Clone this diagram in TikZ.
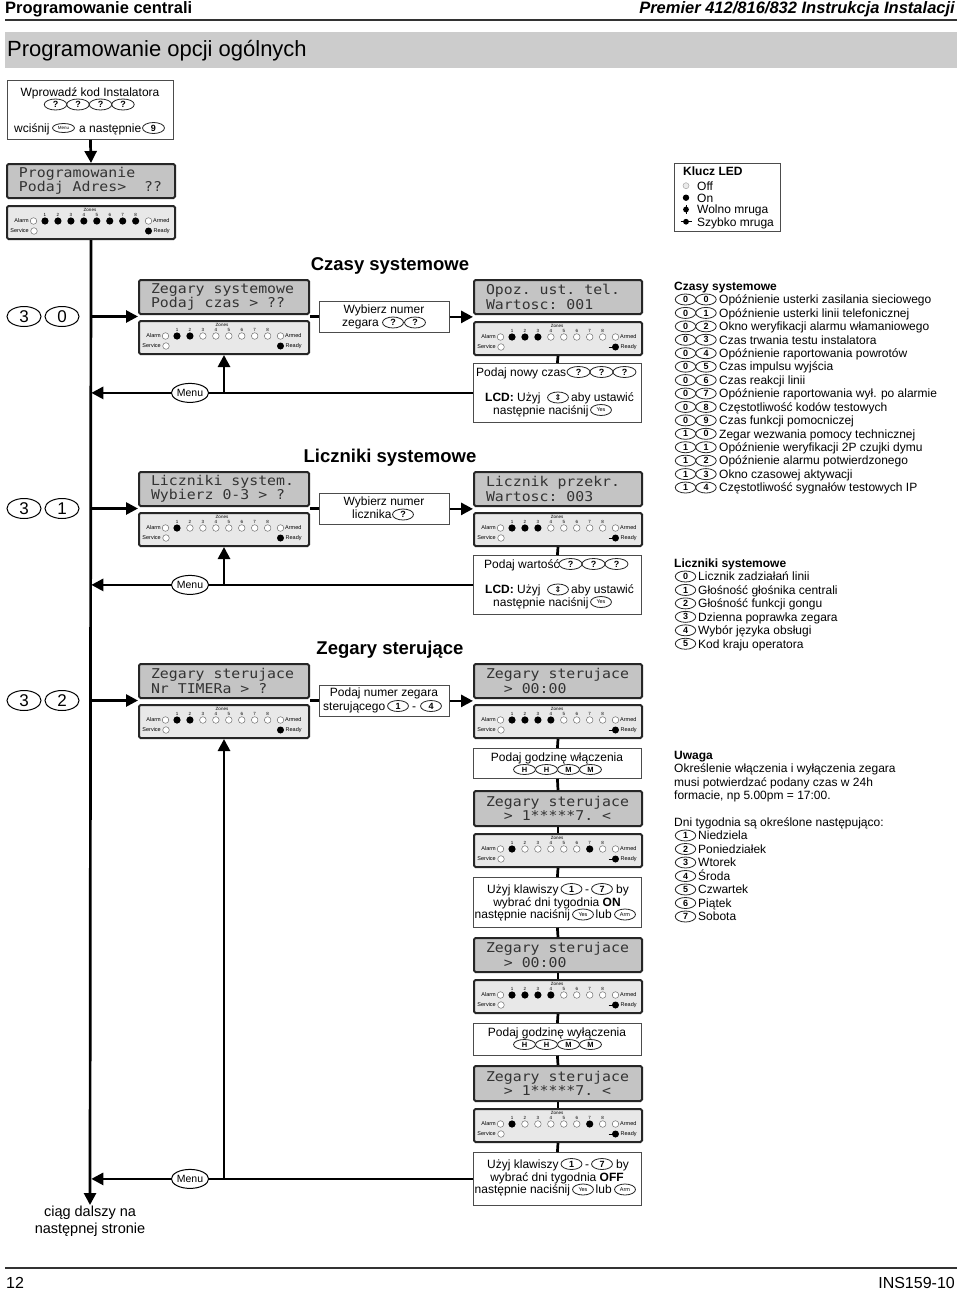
\documentclass[tikz,border=0pt]{standalone}
\usepackage{fontspec}
\setmainfont{Liberation Sans}
\newfontfamily\lcdfont[FakeStretch=1.1]{DejaVu Sans Mono}
\newfontfamily\symfont{DejaVu Sans}
\usetikzlibrary{arrows.meta,shapes.geometric,calc}
\newcommand{\lsp}{\hphantom{x}}

\tikzset{
  conn/.style={line width=2.7pt, draw=black},
  arr/.style={-{Triangle[length=12pt,width=12pt]}},
  txtbox/.style={draw=black!70, line width=0.8pt, fill=white, anchor=north west, inner sep=0pt},
  lcdbox/.style={draw=black!85, line width=2pt, fill=black!23, anchor=north west, rounded corners=1.5pt, inner xsep=12pt, inner ysep=0pt, align=left, text=black!80, font=\lcdfont\fontsize{13.5}{14.3}\selectfont},
  lcdL/.style={lcdbox, minimum width=170pt, minimum height=34pt, text width=146pt},
  lcdR/.style={lcdbox, minimum width=168pt, minimum height=34pt, text width=144pt},
  ledbox/.style={draw=black!85, line width=2pt, fill=black!9, anchor=north west, rounded corners=1.5pt, minimum height=33pt, inner sep=0pt},
  ledtxt/.style={inner sep=0pt, font=\fontsize{5.5}{5.5}\selectfont},
  lednum/.style={inner sep=0pt, font=\fontsize{4.5}{4.5}\selectfont},
  ledoff/.style={draw=black!60, line width=0.45pt, fill=white},
  key/.style={ellipse, draw=black!85, line width=0.8pt, fill=white, inner sep=0pt, minimum width=21pt, minimum height=11pt, font=\fontsize{9}{9}\selectfont\bfseries},
  smallkey/.style={key, font=\fontsize{5.5}{5.5}\selectfont},
  bigkey/.style={ellipse, draw=black, line width=1pt, fill=white, inner sep=0pt, minimum width=34pt, minimum height=20pt, font=\fontsize{17}{17}\selectfont},
  menukey/.style={ellipse, draw=black, line width=1pt, fill=white, inner sep=0pt, minimum width=35pt, minimum height=19pt, font=\fontsize{10.5}{10.5}\selectfont},
  txt/.style={inner sep=0pt, font=\fontsize{12}{14}\selectfont},
  btxt/.style={inner sep=0pt, font=\fontsize{12}{14}\selectfont\bfseries},
  head/.style={inner sep=0pt, font=\fontsize{18.5}{20}\selectfont\bfseries},
}

\newcommand{\ledpanel}[6]{%
  \node[ledbox, minimum width=#4pt] (#1) at (#2,#3) {};
  \begin{scope}[shift={(#2,#3)}]
    \node[lednum] (#1zl) at (84,5) {Zones};
    \node[ledtxt, anchor=east] (#1al) at (23,16) {Alarm};
    \node[ledtxt, anchor=east] (#1sl) at (23,26) {Service};
    \node[ledtxt, anchor=west] (#1arl) at (147,16) {Armed};
    \node[ledtxt, anchor=west] (#1rl) at (147.5,26) {Ready};
    \draw[ledoff] (27.5,16) circle[radius=3.3pt];
    \draw[ledoff] (28,26) circle[radius=3.3pt];
    \draw[ledoff] (142.5,16) circle[radius=3.3pt];
    \fill[black] (142.5,26) circle[radius=3.5pt];
    \ifnum#6=2 \draw[line width=0.6pt] (135.5,26) -- (140,26); \fi
    \foreach \f [count=\i] in {#5} {
      \pgfmathsetmacro\zx{39+12.95*(\i-1)}
      \node[lednum] (#1n\i) at (\zx,10) {\i};
      \ifnum\f=1 \fill[black] (\zx,16) circle[radius=3.6pt];
      \else \draw[ledoff] (\zx,16) circle[radius=3.3pt]; \fi
    }
  \end{scope}
}

% box "Uzyj klawiszy": name, top y, height, word
\newcommand{\ubox}[4]{%
  \node[txtbox, minimum width=168pt, minimum height=#3pt] (#1) at (473,#2) {};
  \node[txt, anchor=base west] (#1a) at (487,#2+16.3) {Użyj klawiszy};
  \node[key] (#1k1) at (571.5,#2+12) {1};
  \node[txt, anchor=base] (#1d) at (587,#2+16.3) {-};
  \node[key] (#1k7) at (602,#2+12) {7};
  \node[txt, anchor=base west] (#1b) at (616,#2+16.3) {by};
  \node[txt, anchor=base] (#1c) at (557,#2+29.3) {wybrać dni tygodnia \textbf{#4}};
  \node[txt, anchor=base west] (#1e) at (474.5,#2+41.8) {następnie naciśnij};
  \node[smallkey] (#1y) at (583,#2+37.5) {Yes};
  \node[txt, anchor=base west] (#1f) at (595.5,#2+41.8) {lub};
  \node[smallkey] (#1r) at (625,#2+37.5) {Arm};
}

% box "Podaj godzine": name, top, height, text
\newcommand{\hmbox}[4]{%
  \node[txtbox, minimum width=168pt, minimum height=#3pt] (#1) at (473,#2) {};
  \node[txt, anchor=base] (#1t) at (557,#2+13.3) {#4};
  \foreach \x/\l [count=\i] in {524.5/H,546.5/H,568.5/M,590.5/M}
    \node[key, minimum width=22pt, minimum height=10pt, font=\fontsize{7.5}{7.5}\selectfont\bfseries] (#1k\i) at (\x,#2+21.5) {\l};
}

\begin{document}
\begin{tikzpicture}[x=1pt,y=-1pt]
\useasboundingbox[fill=white] (0,0) rectangle (960,1290);

% ---------- header ----------
\node[inner sep=0pt, anchor=base west, font=\fontsize{16.5}{18}\selectfont\bfseries] (hl) at (5,13.5) {Programowanie centrali};
\node[inner sep=0pt, anchor=base east, font=\fontsize{16.5}{18}\selectfont\bfseries\itshape] (hr) at (955,13.5) {Premier 412/816/832 Instrukcja Instalacji};
\draw[line width=1.2pt, black!80] (5,20) -- (957,20);
\fill[black!20] (5,32) rectangle (957,68);
\node[inner sep=0pt, anchor=base west, font=\fontsize{22}{24}\selectfont] (title) at (7,57) {Programowanie opcji ogólnych};

% ---------- entry box ----------
\node[txtbox, minimum width=166pt, minimum height=59pt] (b0) at (7,80) {};
\node[txt, anchor=base] (b0t1) at (90,96) {Wprowadź kod Instalatora};
\foreach \x [count=\i] in {55.5,78,100.5,123}
  \node[key, minimum width=22.5pt] (b0k\i) at (\x,104.5) {?};
\node[txt, anchor=base west] (b0t2) at (14,132) {wciśnij};
\node[smallkey, minimum width=22pt, minimum height=9pt, font=\fontsize{4.5}{4.5}\selectfont] (b0m) at (63.5,128) {Menu};
\node[txt, anchor=base west] (b0t3) at (79,132) {a następnie};
\node[key, minimum width=22pt] (b0k9) at (153.5,128) {9};

\node[lcdR] (lcd1) at (6,163) {Programowanie\\Podaj\lsp Adres>\lsp\lsp ??};
\ledpanel{led1}{6}{205}{168}{1,1,1,1,1,1,1,1}{1}

% ---------- LED key ----------
\node[txtbox, minimum width=106pt, minimum height=68pt] (lkey) at (674,163) {};
\node[btxt, anchor=base west] (lkeyt) at (683,175) {Klucz LED};
\draw[black!35, fill=black!8, line width=0.5pt] (686,185.7) circle[radius=3pt];
\node[txt, anchor=base west] (lk1) at (697,190) {Off};
\fill[black] (686,197.7) circle[radius=3.2pt];
\node[txt, anchor=base west] (lk2) at (697,202) {On};
\fill[black] (686,209.5) circle[radius=2.9pt];
\draw[line width=0.4pt] (686,205) -- (686,214);
\node[txt, anchor=base west] (lk3) at (697,213.8) {Wolno mruga};
\fill[black] (686,221.7) circle[radius=2.9pt];
\draw[line width=0.6pt] (680.5,221.7) -- (691.5,221.7);
\node[txt, anchor=base west] (lk4) at (697,226) {Szybko mruga};

% ---------- section headers ----------
\node[head, anchor=base] (h1) at (390,270) {Czasy systemowe};
\node[head, anchor=base] (h2) at (390,462) {Liczniki systemowe};
\node[head, anchor=base] (h3) at (390,654) {Zegary sterujące};

% ---------- big keys ----------
\node[bigkey] (k30a) at (24,316.5) {3};
\node[bigkey] (k30b) at (62,316.5) {0};
\node[bigkey] (k31a) at (24,508.5) {3};
\node[bigkey] (k31b) at (62,508.5) {1};
\node[bigkey] (k32a) at (24,700.5) {3};
\node[bigkey] (k32b) at (62,700.5) {2};

% ---------- section 1 ----------
\node[lcdL] (lcd2) at (138,279) {Zegary\lsp systemowe\\Podaj\lsp czas\lsp >\lsp ??};
\ledpanel{led2}{138}{320}{170}{1,1,0,0,0,0,0,0}{1}
\node[txtbox, minimum width=130pt, minimum height=31pt] (bw1) at (319,301) {};
\node[txt, anchor=base] (bw1t1) at (384,313.5) {Wybierz numer};
\node[txt, anchor=base west] (bw1t2) at (342,326.5) {zegara};
\node[key] (bw1k1) at (393,322.5) {?};
\node[key] (bw1k2) at (415,322.5) {?};
\node[lcdR] (lcd3) at (473,279) {Opoz.\lsp ust.\lsp tel.\\Wartosc:\lsp 001};
\ledpanel{led3}{473}{321}{168}{1,1,1,0,0,0,0,0}{2}
\node[txtbox, minimum width=168pt, minimum height=59pt] (bp1) at (473,363) {};
\node[txt, anchor=base west] (bp1t1) at (476,376.3) {Podaj nowy czas};
\foreach \x [count=\i] in {578.5,601.5,624.5}
  \node[key, minimum width=23pt] (bp1k\i) at (\x,372) {?};
\node[txt, anchor=base west] (bp1t2) at (485,401.8) {\textbf{LCD:} Użyj};
\node[key, font=\symfont\bfseries\fontsize{8}{8}\selectfont] (bp1s) at (558,397.5) {⇕};
\node[txt, anchor=base west] (bp1t3) at (571,401.8) {aby ustawić};
\node[txt, anchor=base west] (bp1t4) at (493,414.3) {następnie naciśnij};
\node[smallkey] (bp1y) at (601,410) {Yes};

% ---------- section 2 ----------
\node[lcdL] (lcd4) at (138,471) {Liczniki\lsp system.\\Wybierz\lsp 0-3\lsp >\lsp ?};
\ledpanel{led4}{138}{512}{170}{1,0,0,0,0,0,0,0}{1}
\node[txtbox, minimum width=130pt, minimum height=31pt] (bw2) at (319,493) {};
\node[txt, anchor=base] (bw2t1) at (384,505.5) {Wybierz numer};
\node[txt, anchor=base west] (bw2t2) at (352,518.5) {licznika};
\node[key] (bw2k) at (403,514.5) {?};
\node[lcdR] (lcd5) at (473,471) {Licznik\lsp przekr.\\Wartosc:\lsp 003};
\ledpanel{led5}{473}{512}{168}{1,1,1,0,0,0,0,0}{2}
\node[txtbox, minimum width=168pt, minimum height=59pt] (bp2) at (473,555) {};
\node[txt, anchor=base west] (bp2t1) at (484,568.3) {Podaj wartość};
\foreach \x [count=\i] in {570.5,593.5,616.5}
  \node[key, minimum width=23pt] (bp2k\i) at (\x,564) {?};
\node[txt, anchor=base west] (bp2t2) at (485,593.8) {\textbf{LCD:} Użyj};
\node[key, font=\symfont\bfseries\fontsize{8}{8}\selectfont] (bp2s) at (558,589.5) {⇕};
\node[txt, anchor=base west] (bp2t3) at (571,593.8) {aby ustawić};
\node[txt, anchor=base west] (bp2t4) at (493,606.3) {następnie naciśnij};
\node[smallkey] (bp2y) at (601,602) {Yes};

% ---------- section 3 ----------
\node[lcdL] (lcd6) at (138,663) {Zegary\lsp sterujace\\Nr\lsp TIMERa\lsp >\lsp ?};
\ledpanel{led6}{138}{704}{170}{1,1,0,0,0,0,0,0}{1}
\node[txtbox, minimum width=130pt, minimum height=31pt] (bw3) at (319,685) {};
\node[txt, anchor=base] (bw3t1) at (384,696.5) {Podaj numer zegara};
\node[txt, anchor=base west] (bw3t2) at (323,710.3) {sterującego};
\node[key] (bw3k1) at (398,706) {1};
\node[txt, anchor=base] (bw3d) at (414,710.3) {-};
\node[key] (bw3k4) at (431,706) {4};

\node[lcdR] (lcd7) at (473,663) {Zegary\lsp sterujace\\\lsp\lsp >\lsp 00:00};
\ledpanel{led7}{473}{704}{168}{1,1,1,1,0,0,0,0}{2}
\hmbox{bh1}{748}{30}{Podaj godzinę włączenia}
\node[lcdR, minimum height=35pt] (lcd8) at (473,790) {Zegary\lsp sterujace\\\lsp\lsp >\lsp 1*****7.\lsp <};
\ledpanel{led8}{473}{833}{168}{1,0,0,0,0,0,1,0}{2}
\ubox{bu1}{877}{50}{ON}
\node[lcdR] (lcd9) at (473,937) {Zegary\lsp sterujace\\\lsp\lsp >\lsp 00:00};
\ledpanel{led9}{473}{979}{168}{1,1,1,1,0,0,0,0}{2}
\hmbox{bh2}{1023}{32}{Podaj godzinę wyłączenia}
\node[lcdR, minimum height=35pt] (lcd10) at (473,1065) {Zegary\lsp sterujace\\\lsp\lsp >\lsp 1*****7.\lsp <};
\ledpanel{led10}{473}{1108}{168}{1,0,0,0,0,0,1,0}{2}
\ubox{bu2}{1152}{53}{OFF}

% ---------- right lists ----------
\node[btxt, anchor=base west] (csh) at (674,290) {Czasy systemowe};
\foreach \a/\b/\t [count=\i from 0] in {
  0/0/Opóźnienie usterki zasilania sieciowego,
  0/1/Opóźnienie usterki linii telefonicznej,
  0/2/Okno weryfikacji alarmu włamaniowego,
  0/3/Czas trwania testu instalatora,
  0/4/Opóźnienie raportowania powrotów,
  0/5/Czas impulsu wyjścia,
  0/6/Czas reakcji linii,
  0/7/Opóźnienie raportowania wył. po alarmie,
  0/8/Częstotliwość kodów testowych,
  0/9/Czas funkcji pomocniczej,
  1/0/Zegar wezwania pomocy technicznej,
  1/1/Opóźnienie weryfikacji 2P czujki dymu,
  1/2/Opóźnienie alarmu potwierdzonego,
  1/3/Okno czasowej aktywacji,
  1/4/Częstotliwość sygnałów testowych IP} {
  \pgfmathsetmacro\yy{299.5+13.43*\i}
  \node[key, minimum width=20.5pt] (csa\i) at (685.5,\yy) {\a};
  \node[key, minimum width=20.5pt] (csb\i) at (706,\yy) {\b};
  \node[txt, anchor=base west] (cst\i) at (719,\yy+4.3) {\t};
}

\node[btxt, anchor=base west] (lsh) at (674,567) {Liczniki systemowe};
\foreach \a/\t [count=\i from 0] in {
  0/Licznik zadziałań linii,
  1/Głośność głośnika centrali,
  2/Głośność funkcji gongu,
  3/Dzienna poprawka zegara,
  4/Wybór języka obsługi,
  5/Kod kraju operatora} {
  \pgfmathsetmacro\yy{576.5+13.45*\i}
  \node[key, minimum width=20.5pt] (lsa\i) at (685.5,\yy) {\a};
  \node[txt, anchor=base west] (lst\i) at (698,\yy+4.3) {\t};
}

\node[btxt, anchor=base west] (uw) at (674,759.3) {Uwaga};
\node[txt, anchor=base west] (uw1) at (674,772.5) {Określenie włączenia i wyłączenia zegara};
\node[txt, anchor=base west] (uw2) at (674,786) {musi potwierdzać podany czas w 24h};
\node[txt, anchor=base west] (uw3) at (674,799.3) {formacie, np 5.00pm = 17:00.};
\node[txt, anchor=base west] (uw4) at (674,826.3) {Dni tygodnia są określone następująco:};
\foreach \a/\t [count=\i from 0] in {
  1/Niedziela, 2/Poniedziałek, 3/Wtorek, 4/Środa, 5/Czwartek, 6/Piątek, 7/Sobota} {
  \pgfmathsetmacro\yy{835.5+13.5*\i}
  \node[key, minimum width=20.5pt] (dya\i) at (685.5,\yy) {\a};
  \node[txt, anchor=base west] (dyt\i) at (698,\yy+4.3) {\t};
}

% ---------- connectors ----------
\coordinate (j1) at (90,316.5);
\coordinate (j2) at (90,508.5);
\coordinate (j3) at (90,700.5);
\coordinate (cont) at (90,1205);

\draw[conn,arr] (b0.south) -- (lcd1.north);
\draw[conn,arr] (led1.south) -- (cont);

\draw[conn,arr] (j1) -- (j1 -| lcd2.west);
\draw[conn] (j1 -| lcd2.east) -- (j1 -| bw1.west);
\draw[conn,arr] (bw1.east) -- (bw1.east -| lcd3.west);
\draw[conn] (led3.south) -- (bp1.north);

\draw[conn,arr] (j2) -- (j2 -| lcd4.west);
\draw[conn] (j2 -| lcd4.east) -- (j2 -| bw2.west);
\draw[conn,arr] (bw2.east) -- (bw2.east -| lcd5.west);
\draw[conn] (led5.south) -- (bp2.north);

\draw[conn,arr] (j3) -- (j3 -| lcd6.west);
\draw[conn] (j3 -| lcd6.east) -- (j3 -| bw3.west);
\draw[conn,arr] (bw3.east) -- (bw3.east -| lcd7.west);
\draw[conn] (led7.south) -- (bh1.north);
\draw[conn] (bh1.south) -- (lcd8.north);
\draw[conn] (lcd8.south) -- (led8.north);
\draw[conn] (led8.south) -- (bu1.north);
\draw[conn] (bu1.south) -- (lcd9.north);
\draw[conn] (lcd9.south) -- (led9.north);
\draw[conn] (led9.south) -- (bh2.north);
\draw[conn] (bh2.south) -- (lcd10.north);
\draw[conn] (lcd10.south) -- (led10.north);
\draw[conn] (led10.south) -- (bu2.north);

% return lines with Menu
\draw[conn,arr,shorten >=1.3pt] (bp1.west) -- (bp1.west -| j1);
\coordinate (u1) at ($(bp1.west -| j1)+(134,0)$);
\draw[conn,arr] (u1) -- (u1 |- led2.south);
\node[menukey] (menu1) at ($(bp1.west -| j1)+(100,0)$) {Menu};

\draw[conn,arr,shorten >=1.3pt] (bp2.west) -- (bp2.west -| j2);
\coordinate (u2) at ($(bp2.west -| j2)+(134,0)$);
\draw[conn,arr] (u2) -- (u2 |- led4.south);
\node[menukey] (menu2) at ($(bp2.west -| j2)+(100,0)$) {Menu};

\draw[conn,arr,shorten >=1.3pt] (bu2.west) -- (bu2.west -| j3);
\coordinate (u3) at ($(bu2.west -| j3)+(134,0)$);
\draw[conn,arr] (u3) -- (u3 |- led6.south);
\node[menukey] (menu3) at ($(bu2.west -| j3)+(100,0)$) {Menu};

\node[inner sep=0pt, align=center, font=\fontsize{14.5}{17}\selectfont] (conttxt) at (90,1221) {ciąg dalszy na\\następnej stronie};

% ---------- footer ----------
\draw[line width=1.1pt, black!80] (5,1268) -- (957,1268);
\node[inner sep=0pt, anchor=base west, font=\fontsize{16}{18}\selectfont] (pg) at (6,1288) {12};
\node[inner sep=0pt, anchor=base east, font=\fontsize{16}{18}\selectfont] (docid) at (955,1288) {INS159-10};
\end{tikzpicture}
\end{document}
